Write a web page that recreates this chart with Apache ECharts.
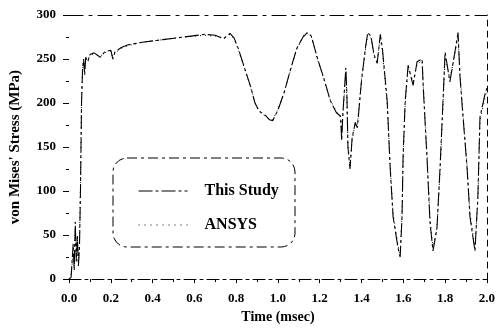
<!DOCTYPE html>
<html>
<head>
<meta charset="utf-8">
<script src="https://cdn.jsdelivr.net/npm/echarts@6/dist/echarts.min.js"></script>
<style>
  html, body { margin: 0; padding: 0; background: #fff; }
  #chart { width: 498px; height: 329px; }
</style>
</head>
<body>
<div id="chart"></div>
<script>
// time (msec)
var time = [0.000, 0.010, 0.020, 0.025, 0.030, 0.035, 0.040, 0.045, 0.050, 0.055,
  0.060, 0.065, 0.070, 0.075, 0.080, 0.090, 0.100, 0.120, 0.150, 0.170,
  0.200, 0.210, 0.220, 0.250, 0.280, 0.350, 0.450, 0.550, 0.650, 0.700,
  0.740, 0.770, 0.790, 0.810, 0.840, 0.870, 0.890, 0.910, 0.940, 0.960,
  0.975, 1.000, 1.030, 1.060, 1.090, 1.120, 1.140, 1.160, 1.190, 1.220,
  1.250, 1.280, 1.300, 1.305, 1.310, 1.325, 1.330, 1.335, 1.345, 1.355,
  1.370, 1.380, 1.400, 1.420, 1.430, 1.445, 1.460, 1.475, 1.490, 1.500,
  1.523, 1.537, 1.551, 1.575, 1.585, 1.594, 1.599, 1.609, 1.623, 1.647,
  1.666, 1.690, 1.695, 1.714, 1.728, 1.742, 1.761, 1.776, 1.790, 1.800,
  1.823, 1.847, 1.862, 1.871, 1.885, 1.905, 1.919, 1.943, 1.957, 1.967,
  1.990, 2.000];

// von Mises stress (MPa)
var thisStudy = [0, 2, 40, 10, 65, 20, 50, 15, 35, 100,
  200, 240, 250, 232, 252, 247, 255, 257, 252, 258,
  260, 250, 258, 263, 266, 269, 272, 275, 278, 277,
  273, 279, 274, 262, 240, 218, 200, 191, 186, 181,
  180, 192, 212, 238, 262, 275, 280, 276, 250, 228,
  203, 189, 185, 157, 185, 240, 210, 150, 125, 160,
  178, 172, 225, 265, 280, 276, 255, 245, 278, 262,
  202, 127, 71, 35, 25, 71, 139, 202, 243, 220,
  247, 250, 220, 135, 64, 32, 57, 127, 202, 258,
  224, 258, 280, 231, 187, 127, 71, 32, 94, 184,
  209, 217];

var ansys = [0, 5, 30, 15, 55, 25, 45, 20, 40, 110,
  205, 238, 248, 236, 250, 249, 254, 256, 253, 257,
  259, 252, 257, 262, 265, 269, 272, 275, 277, 276,
  274, 278, 273, 261, 239, 217, 201, 190, 185, 181,
  181, 193, 213, 237, 261, 276, 279, 275, 249, 227,
  204, 190, 184, 160, 183, 236, 205, 152, 128, 158,
  176, 175, 228, 262, 278, 274, 252, 248, 275, 258,
  198, 130, 75, 38, 28, 75, 135, 198, 240, 224,
  244, 248, 224, 140, 68, 35, 60, 122, 198, 252,
  228, 255, 276, 235, 190, 130, 75, 35, 90, 180,
  205, 214];

var xTicks = { min: 0, max: 2.0, interval: 0.2 };
var yTicks = { min: 0, max: 300, interval: 50 };

var font = "'Liberation Serif', 'Times New Roman', serif";

function pairs(xs, ys) {
  return xs.map(function (x, i) { return [x, ys[i]]; });
}

var chart = echarts.init(document.getElementById('chart'), null, { renderer: 'canvas' });

var option = {
  backgroundColor: '#fff',
  animation: false,
  grid: { left: 68, right: 11, top: 15, bottom: 45 },
  legend: {
    orient: 'vertical',
    left: 133,
    top: 178,
    itemWidth: 49,
    itemHeight: 14,
    itemGap: 18,
    data: [
      { name: 'This Study', itemStyle: { opacity: 0 }, lineStyle: { color: '#000', width: 1.1, type: [14, 3, 3, 3] } },
      { name: 'ANSYS', itemStyle: { opacity: 0 }, lineStyle: { color: '#000', width: 1, type: [1, 5] } }
    ],
    textStyle: { fontFamily: font, fontWeight: 'bold', fontSize: 16, color: '#000', padding: [0, 0, 0, 12] }
  },
  xAxis: [{
    type: 'value',
    min: xTicks.min,
    max: xTicks.max,
    interval: xTicks.interval,
    name: 'Time (msec)',
    nameLocation: 'middle',
    nameGap: 27,
    nameTextStyle: { fontFamily: font, fontWeight: 'bold', fontSize: 14, color: '#000' },
    axisLine: { show: true, onZero: false, lineStyle: { color: '#000', width: 1, type: [12, 4, 3, 4] } },
    axisTick: { show: true, inside: false, length: 4, lineStyle: { color: '#000' } },
    minorTick: { show: true, splitNumber: 2, length: 3, lineStyle: { color: '#000' } },
    axisLabel: {
      margin: 13, fontFamily: font, fontWeight: 'bold', fontSize: 13, color: '#000',
      formatter: function (v) { return v.toFixed(1); }
    },
    splitLine: { show: false }
  }, {
    type: 'value',
    position: 'top',
    min: xTicks.min,
    max: xTicks.max,
    axisLine: { show: true, onZero: false, lineStyle: { color: '#000', width: 1, type: [14, 6, 3, 6] } },
    axisTick: { show: false },
    axisLabel: { show: false },
    splitLine: { show: false }
  }],
  yAxis: [{
    type: 'value',
    min: yTicks.min,
    max: yTicks.max,
    interval: yTicks.interval,
    name: "von Mises' Stress (MPa)",
    nameLocation: 'middle',
    nameGap: 46,
    nameTextStyle: { fontFamily: font, fontWeight: 'bold', fontSize: 15, color: '#000' },
    axisLine: { show: false },
    axisTick: { show: true, inside: false, length: 6, lineStyle: { color: '#000' } },
    minorTick: { show: true, splitNumber: 2, length: 3, lineStyle: { color: '#000' } },
    axisLabel: { margin: 13, fontFamily: font, fontWeight: 'bold', fontSize: 13, color: '#000' },
    splitLine: { show: false }
  }, {
    type: 'value',
    position: 'right',
    min: yTicks.min,
    max: yTicks.max,
    axisLine: { show: true, onZero: false, lineStyle: { color: '#000', width: 1, type: [6, 5] } },
    axisTick: { show: false },
    axisLabel: { show: false },
    splitLine: { show: false }
  }],
  graphic: [{
    type: 'rect',
    shape: { x: 113, y: 158, width: 182, height: 89, r: 14 },
    style: { fill: 'none', stroke: '#000', lineWidth: 1, lineDash: [10, 4, 3, 4] },
    z: 10
  }],
  series: [{
    name: 'This Study',
    type: 'line',
    symbol: 'none',
    data: pairs(time, thisStudy),
    lineStyle: { color: '#000', width: 1.1, type: [14, 3, 3, 3] },
    itemStyle: { color: '#000' }
  }, {
    name: 'ANSYS',
    type: 'line',
    symbol: 'none',
    data: pairs(time, ansys),
    lineStyle: { color: '#000', width: 1, type: [1, 4] },
    itemStyle: { color: '#000' }
  }]
};

chart.setOption(option);
</script>
</body>
</html>
